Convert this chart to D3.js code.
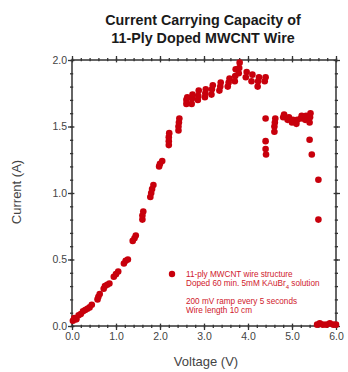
<!DOCTYPE html>
<html>
<head>
<meta charset="utf-8">
<script src="https://cdn.jsdelivr.net/npm/d3@7"></script>
<style>
  html, body { margin: 0; padding: 0; background: #fff; }
  svg { display: block; font-family: "Liberation Sans", Arial, sans-serif; }
</style>
</head>
<body>
<svg id="chart" width="348" height="372"></svg>
<script>
const W = 348, H = 372;

// Measured current per voltage step (several readings per step)
const voltage = [
  0.02, 0.05, 0.1, 0.15, 0.2, 0.25, 0.3, 0.35, 0.4, 0.45,
  0.58, 0.6, 0.63, 0.72, 0.75, 0.8, 0.85, 0.95, 1.0, 1.05,
  1.18, 1.22, 1.27, 1.38, 1.42, 1.45, 1.6, 1.6, 1.62,
  1.78, 1.8, 1.82, 1.85, 1.98, 2.0, 2.05,
  2.2, 2.2, 2.2, 2.21, 2.42, 2.42, 2.43, 2.44,
  2.6, 2.6, 2.62, 2.72, 2.73, 2.74, 2.86, 2.87, 2.88,
  3.02, 3.03, 3.04, 3.17, 3.18, 3.2, 3.35, 3.37, 3.38,
  3.54, 3.56, 3.58, 3.7, 3.71, 3.72, 3.79, 3.8, 3.81,
  3.95, 3.97, 4.08, 4.1, 4.22, 4.23, 4.25, 4.38, 4.4,
  4.4, 4.4, 4.4, 4.41, 4.6, 4.6, 4.61, 4.62,
  4.8, 4.82, 4.9, 4.93, 5.0, 5.02, 5.1, 5.12,
  5.2, 5.22, 5.3, 5.32, 5.4, 5.41, 5.42, 5.4, 5.45,
  5.6, 5.6, 5.57, 5.63, 5.7, 5.78, 5.86, 5.94, 6.0
];
const current = [
  0.04, 0.06, 0.05, 0.08, 0.09, 0.11, 0.12, 0.13, 0.14, 0.16,
  0.2, 0.22, 0.24, 0.28, 0.3, 0.31, 0.32, 0.37, 0.39, 0.41,
  0.47, 0.49, 0.5, 0.64, 0.66, 0.68, 0.8, 0.83, 0.86,
  0.97, 1.0, 1.03, 1.06, 1.2, 1.22, 1.24,
  1.36, 1.39, 1.42, 1.45, 1.47, 1.5, 1.53, 1.56,
  1.67, 1.7, 1.72, 1.67, 1.71, 1.74, 1.7, 1.73, 1.77,
  1.72, 1.75, 1.78, 1.74, 1.78, 1.81, 1.77, 1.8, 1.83,
  1.8, 1.83, 1.86, 1.84, 1.88, 1.93, 1.9, 1.94, 1.98,
  1.87, 1.91, 1.84, 1.89, 1.8, 1.84, 1.87, 1.84, 1.87,
  1.56, 1.39, 1.33, 1.29, 1.46, 1.5, 1.53, 1.56,
  1.57, 1.59, 1.55, 1.57, 1.53, 1.55, 1.52, 1.55,
  1.56, 1.58, 1.55, 1.58, 1.53, 1.57, 1.6, 1.4, 1.29,
  1.1, 0.8, 0.01, 0.02, 0.01, 0.01, 0.02, 0.01, 0.01
];

const xTicks = [0, 1, 2, 3, 4, 5, 6];
const yTicks = [0, 0.5, 1.0, 1.5, 2.0];
const titleLines = ["Current Carrying Capacity of", "11-Ply Doped MWCNT Wire"];
const legendLines = [
  "11-ply MWCNT wire structure",
  "Doped 60 min. 5mM KAuBr",
  "200 mV ramp every 5 seconds",
  "Wire length 10 cm"
];

const MARK = "#c8000c";
const AXIS = "#333";
const LABEL = "#444";

const svg = d3.select("#chart");

const x = d3.scaleLinear().domain([0, 6]).range([72, 336]);
const y = d3.scaleLinear().domain([0, 2]).range([326, 60]);

const xMinor = d3.range(0, 6.001, 0.2).map(v => +v.toFixed(1));
const yMinor = d3.range(0, 2.001, 0.1).map(v => +v.toFixed(1));

// Frame
svg.append("rect")
  .attr("x", x(0)).attr("y", y(2))
  .attr("width", x(6) - x(0)).attr("height", y(0) - y(2))
  .attr("fill", "none").attr("stroke", AXIS).attr("stroke-width", 1.5);

// Ticks crossing the frame on all four sides
function drawTicks(axis, minor, major, at) {
  const g = svg.append("g")
    .attr("transform", at)
    .call(axis.tickValues(minor).tickSize(2).tickFormat(""));
  g.select(".domain").remove();
  g.selectAll(".tick line").attr("stroke", AXIS).attr("stroke-width", 1.3);
  const h = svg.append("g")
    .attr("transform", at)
    .call(axis.tickValues(major).tickSize(4).tickFormat(""));
  h.select(".domain").remove();
  h.selectAll(".tick line").attr("stroke", AXIS).attr("stroke-width", 1.3);
  [g, h].forEach(s => s.selectAll(".tick line").each(function() {
    const l = d3.select(this);
    ["x2", "y2"].forEach(k => {
      const v = +l.attr(k);
      if (v) l.attr(k.replace("2", "1"), -v * 0.6);
    });
  }));
}
drawTicks(d3.axisBottom(x), xMinor, xTicks, `translate(0,${y(0)})`);
drawTicks(d3.axisTop(x), xMinor, xTicks, `translate(0,${y(2)})`);
drawTicks(d3.axisLeft(y), yMinor, yTicks, `translate(${x(0)},0)`);
drawTicks(d3.axisRight(y), yMinor, yTicks, `translate(${x(6)},0)`);

// Tick labels
const xl = svg.append("g")
  .attr("transform", `translate(0,${y(0)})`)
  .call(d3.axisBottom(x).tickValues(xTicks).tickSize(0).tickPadding(7).tickFormat(d3.format(".1f")));
xl.select(".domain").remove();
xl.selectAll("text").attr("fill", LABEL).style("font-size", "10.5px").style("font-family", "Liberation Sans, Arial, sans-serif");

const yl = svg.append("g")
  .attr("transform", `translate(${x(0)},0)`)
  .call(d3.axisLeft(y).tickValues(yTicks).tickSize(0).tickPadding(5).tickFormat(d3.format(".1f")));
yl.select(".domain").remove();
yl.selectAll("text").attr("fill", LABEL).style("font-size", "10.5px").style("font-family", "Liberation Sans, Arial, sans-serif");

// Title
svg.append("g").selectAll("text")
  .data(titleLines)
  .join("text")
  .attr("x", 203)
  .attr("y", (d, i) => 25 + i * 18)
  .attr("text-anchor", "middle")
  .attr("font-weight", "bold")
  .attr("font-size", 14.3)
  .attr("fill", "#1a1a1a")
  .text(d => d);

// Axis titles
svg.append("text")
  .attr("x", 206).attr("y", 366)
  .attr("text-anchor", "middle")
  .attr("font-size", 13)
  .attr("fill", LABEL)
  .text("Voltage (V)");

svg.append("text")
  .attr("transform", "translate(21,192) rotate(-90)")
  .attr("text-anchor", "middle")
  .attr("font-size", 13)
  .attr("fill", LABEL)
  .text("Current (A)");

// Data points
svg.append("g")
  .selectAll("circle")
  .data(voltage.map((v, i) => [v, current[i]]))
  .join("circle")
  .attr("cx", d => x(d[0]))
  .attr("cy", d => y(d[1]))
  .attr("r", 3.3)
  .attr("fill", MARK);

// Legend
const leg = svg.append("g");
leg.append("circle").attr("cx", 172).attr("cy", 274).attr("r", 3.2).attr("fill", MARK);
const lt = leg.selectAll("text")
  .data(legendLines)
  .join("text")
  .attr("x", 186)
  .attr("y", (d, i) => [277, 286, 304, 313][i])
  .attr("font-size", 8.2)
  .attr("fill", "#d0202c")
  .text(d => d);
// subscript and tail on the doping line
const dop = lt.filter((d, i) => i === 1);
dop.append("tspan").attr("dy", 2.5).attr("font-size", 6).text("4");
dop.append("tspan").attr("dy", -2.5).text(" solution");
</script>
</body>
</html>
